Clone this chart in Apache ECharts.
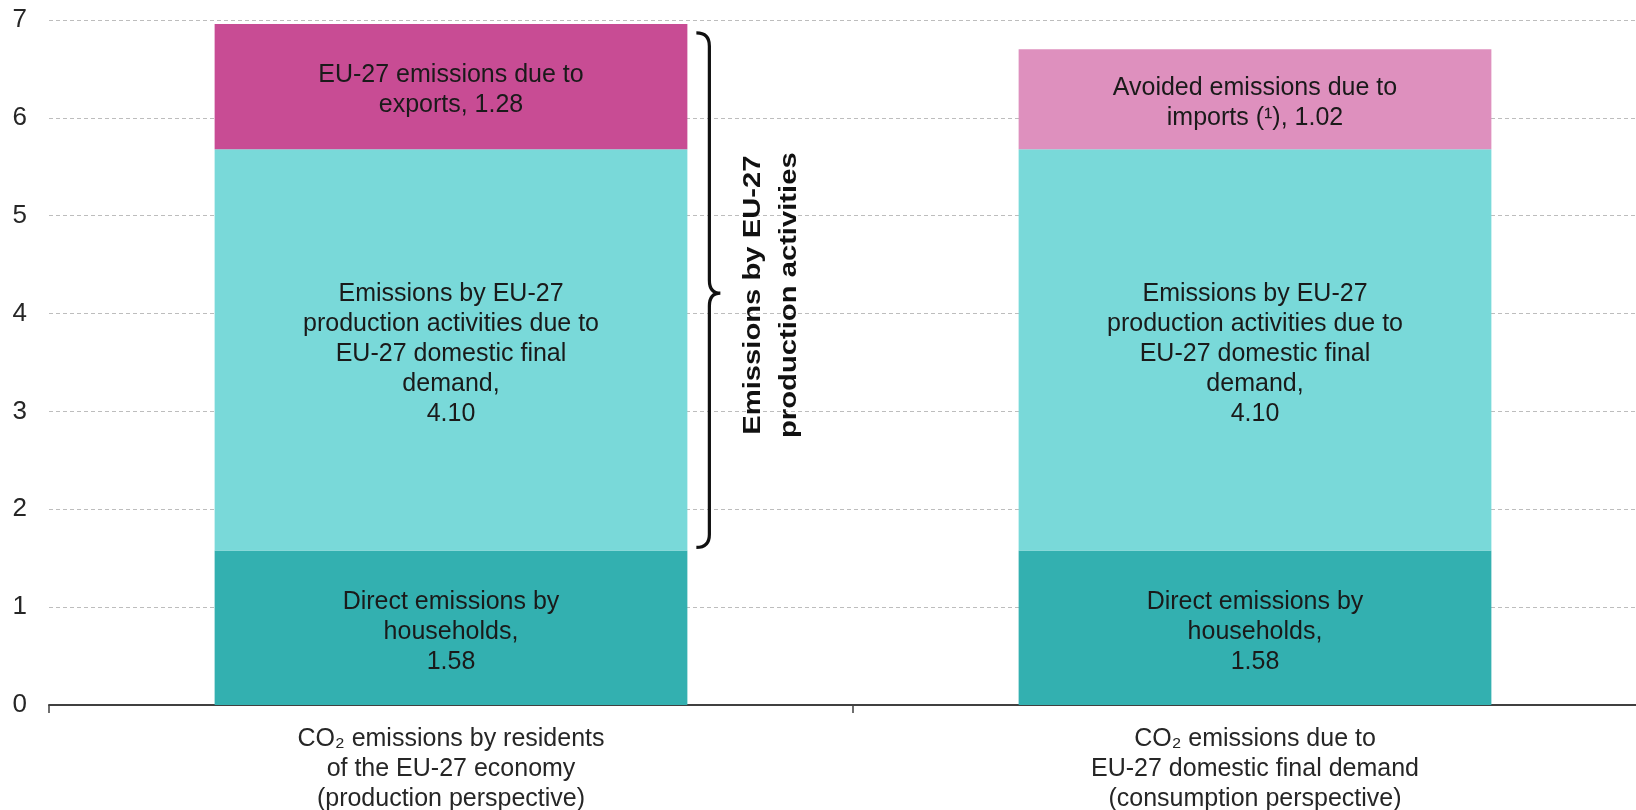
<!DOCTYPE html>
<html>
<head>
<meta charset="utf-8">
<title>CO2 emissions: production vs consumption perspective</title>
<script src="https://cdn.jsdelivr.net/npm/echarts@6/dist/echarts.min.js"></script>
<style>
  html, body { margin: 0; padding: 0; background: #ffffff; }
  #chart { width: 1636px; height: 810px; }
</style>
</head>
<body>
<div id="chart"></div>
<script>
// Categories on the x axis
const categories = [
  'CO\u2082 emissions by residents\nof the EU-27 economy\n(production perspective)',
  'CO\u2082 emissions due to\nEU-27 domestic final demand\n(consumption perspective)'
];

// Stacked components (billion tonnes of CO2)
const householdValues = [1.58, 1.58];
const domesticValues = [4.10, 4.10];
const exportValues = [1.28, '-'];
const importValues = ['-', 1.02];

// Value axis ticks
const yMin = 0;
const yMax = 7;
const yInterval = 1;

// In-bar label captions (value appended)
const householdCaption = 'Direct emissions by\nhouseholds,\n';
const domesticCaption = 'Emissions by EU-27\nproduction activities due to\nEU-27 domestic final\ndemand,\n';
const exportCaption = 'EU-27 emissions due to\nexports, ';
const importCaption = 'Avoided emissions due to\nimports (\u00B9), ';

// Brace annotation text
const braceText = 'Emissions by EU-27\nproduction activities';

// Brace range on the first bar: production activities = domestic + exports
const braceLow = householdValues[0];
const braceHigh = householdValues[0] + domesticValues[0] + exportValues[0];
const braceData = [[0, braceLow, braceHigh]];

const BAR_RATIO = 0.588;
const FONT = "'Liberation Sans', Arial, sans-serif";

const chart = echarts.init(document.getElementById('chart'));

function barLabel(caption) {
  return {
    show: true,
    position: 'inside',
    offset: [0, 4],
    color: '#1a1a1a',
    fontFamily: FONT,
    fontSize: 25,
    lineHeight: 30,
    align: 'center',
    formatter: function (p) { return caption + Number(p.value).toFixed(2); }
  };
}

function renderBrace(params, api) {
  const lo = api.coord([api.value(0), api.value(1)]);
  const hi = api.coord([api.value(0), api.value(2)]);
  const band = api.size([1, 0])[0];
  const barRight = lo[0] + band * BAR_RATIO / 2;
  const x0 = barRight + 9;
  const x1 = x0 + 13;
  const x2 = x1 + 11;
  const yTop = hi[1] + 9;
  const yBot = lo[1] - 3;
  const yMid = (yTop + yBot) / 2 + 3;
  const r = 13;
  const path =
    'M' + x0 + ',' + yTop +
    ' Q' + x1 + ',' + yTop + ' ' + x1 + ',' + (yTop + r) +
    ' L' + x1 + ',' + (yMid - r) +
    ' Q' + x1 + ',' + yMid + ' ' + x2 + ',' + yMid +
    ' Q' + x1 + ',' + yMid + ' ' + x1 + ',' + (yMid + r) +
    ' L' + x1 + ',' + (yBot - r) +
    ' Q' + x1 + ',' + yBot + ' ' + x0 + ',' + yBot;
  return {
    type: 'group',
    children: [
      {
        type: 'path',
        shape: { pathData: path },
        style: { stroke: '#111111', lineWidth: 3.2, fill: null }
      },
      {
        type: 'text',
        x: barRight + 84,
        y: yMid + 2,
        rotation: Math.PI / 2,
        scaleX: 1.27,
        scaleY: 1,
        style: {
          text: braceText,
          fill: '#111111',
          fontFamily: FONT,
          fontWeight: 'bold',
          fontSize: 23,
          lineHeight: 36,
          align: 'center',
          verticalAlign: 'middle'
        }
      }
    ]
  };
}

const option = {
  backgroundColor: '#ffffff',
  animation: false,
  grid: {
    left: 49,
    right: -21,
    top: 20,
    bottom: 105,
    containLabel: false,
    outerBoundsMode: 'none'
  },
  xAxis: {
    type: 'category',
    data: categories,
    axisLine: { show: true, lineStyle: { color: '#404040', width: 2 } },
    axisTick: { show: true, length: 8, lineStyle: { color: '#404040', width: 1.5 } },
    axisLabel: {
      interval: 0,
      margin: 19,
      color: '#262626',
      fontFamily: FONT,
      fontSize: 25,
      lineHeight: 30,
      align: 'center'
    },
    splitLine: { show: false }
  },
  yAxis: {
    type: 'value',
    min: yMin,
    max: yMax,
    interval: yInterval,
    axisLine: { show: false },
    axisTick: { show: false },
    axisLabel: {
      margin: 22,
      color: '#262626',
      fontFamily: FONT,
      fontSize: 26
    },
    splitLine: {
      show: true,
      lineStyle: { color: '#bdbdbd', width: 1, type: [4, 3] }
    }
  },
  series: [
    {
      name: 'Direct emissions by households',
      type: 'bar',
      stack: 'total',
      barWidth: (BAR_RATIO * 100) + '%',
      data: householdValues,
      itemStyle: { color: '#33b0b0' },
      label: barLabel(householdCaption),
      z: 2
    },
    {
      name: 'Emissions due to domestic final demand',
      type: 'bar',
      stack: 'total',
      barWidth: (BAR_RATIO * 100) + '%',
      data: domesticValues,
      itemStyle: { color: '#79d9d9' },
      label: barLabel(domesticCaption),
      z: 2
    },
    {
      name: 'EU-27 emissions due to exports',
      type: 'bar',
      stack: 'total',
      barWidth: (BAR_RATIO * 100) + '%',
      data: exportValues,
      itemStyle: { color: '#c84c94' },
      label: barLabel(exportCaption),
      z: 2
    },
    {
      name: 'Avoided emissions due to imports',
      type: 'bar',
      stack: 'total',
      barWidth: (BAR_RATIO * 100) + '%',
      data: importValues,
      itemStyle: { color: '#de90be' },
      label: barLabel(importCaption),
      z: 2
    },
    {
      name: 'Production activities brace',
      type: 'custom',
      silent: true,
      renderItem: renderBrace,
      encode: { x: 0, y: [1, 2] },
      data: braceData,
      z: 5
    }
  ]
};

chart.setOption(option);
</script>
</body>
</html>
